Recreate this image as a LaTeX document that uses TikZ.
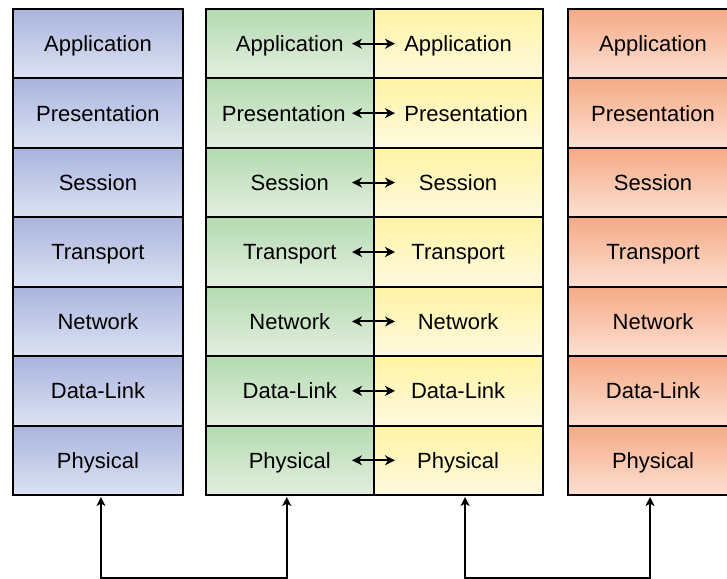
\documentclass[tikz,border=0pt]{standalone}
\usepackage{fontspec}
\setmainfont{Liberation Sans}
\usetikzlibrary{arrows.meta,calc}
\definecolor{blueT}{RGB}{169,180,222}
\definecolor{blueB}{RGB}{221,226,242}
\definecolor{greenT}{RGB}{179,219,177}
\definecolor{greenB}{RGB}{228,238,223}
\definecolor{yellowT}{RGB}{255,243,163}
\definecolor{yellowB}{RGB}{255,250,224}
\definecolor{orangeT}{RGB}{245,170,133}
\definecolor{orangeB}{RGB}{253,224,211}
\begin{document}
\begin{tikzpicture}[x=1pt,y=-1pt,
  layer/.style={draw=black, line width=2pt, minimum height=69.43pt, inner sep=0pt,
    text height=15.8pt, text depth=0pt, font=\fontsize{22}{26}\selectfont},
  bluel/.style={layer, minimum width=169.5pt, top color=blueT, bottom color=blueB},
  greenl/.style={layer, minimum width=167.5pt, top color=greenT, bottom color=greenB},
  yellowl/.style={layer, minimum width=169.2pt, top color=yellowT, bottom color=yellowB},
  orangel/.style={layer, minimum width=170pt, top color=orangeT, bottom color=orangeB},
  harr/.style={line width=2pt, {Stealth[length=10pt,width=10pt,inset=3pt]}-{Stealth[length=10pt,width=10pt,inset=3pt]}},
  varr/.style={line width=2pt, {Stealth[length=9pt,width=9pt,inset=2.5pt]}-{Stealth[length=9pt,width=9pt,inset=2.5pt]}}]
\useasboundingbox (0,0) rectangle (727,578);
\clip (0,0) rectangle (727,578);
\foreach \i/\t/\gs/\ys in {1/Application/0/0,2/Presentation/-12/-16,3/Session/0/0,4/Transport/0/0,5/Network/0/0,6/Data-Link/0/0,7/Physical/0/0}{
  \pgfmathsetmacro\yy{9+69.43*(\i-0.5)}
  \node[bluel] (b\i) at (97.95,\yy) {\t};
  \node[greenl] (g\i) at (289.75,\yy) {\hspace*{\gs pt}\t};
  \node[yellowl] (y\i) at (458.1,\yy) {\t\hspace*{\ys pt}};
  \node[orangel] (o\i) at (653,\yy) {\t};
  \draw[harr] ([xshift=-22.5pt]g\i.east) -- ([xshift=22.5pt]y\i.west);
}
\draw[varr] ([xshift=3pt,yshift=-1pt]b7.south) -- ++(0,80.5) -| ([xshift=-3pt,yshift=-1pt]g7.south);
\draw[varr] ([xshift=7pt,yshift=-1pt]y7.south) -- ++(0,80.5) -| ([xshift=-3pt,yshift=-1pt]o7.south);
\end{tikzpicture}
\end{document}
